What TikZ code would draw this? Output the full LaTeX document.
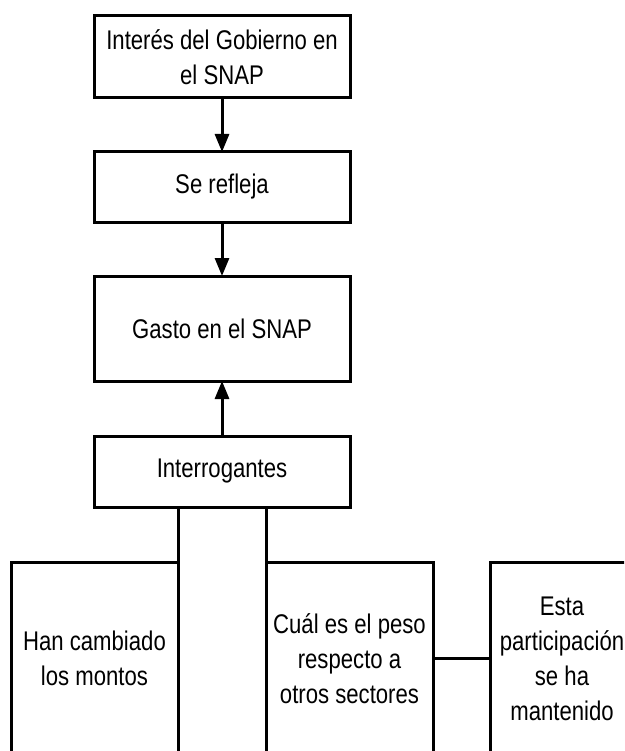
\documentclass[tikz,border=0pt]{standalone}
\usepackage{fontspec}
\setmainfont[FakeStretch=0.82]{Liberation Sans}
\usepackage{tikz}
\usetikzlibrary{positioning, arrows.meta}

\begin{document}
\begin{tikzpicture}
    [x=1pt, y=-1pt,
    caja/.style={rectangle, draw=black, line width=3pt, align=center, minimum width=256pt, inner sep=0pt, outer sep=0pt},
    cajabaja/.style={rectangle, draw=black, line width=3pt, align=center, minimum height=193pt, inner sep=0pt, outer sep=0pt},
    flecha/.style={-{Triangle[width=14pt,length=18pt]}, line width=3pt},
    font=\fontsize{27}{35}\selectfont]

    \useasboundingbox (0,0) rectangle (624,751);
    \clip (0,0) rectangle (624,751);

    %Nodes
    \node[caja, minimum height=82pt](interes) at (222,57) {Interés del Gobierno en\\el SNAP};
    \node[caja, minimum height=70pt](refleja)[below=54pt of interes] {Se refleja};
    \node[caja, minimum height=105pt](gasto)[below=54pt of refleja] {Gasto en el SNAP};
    \node[caja, minimum height=71pt](preguntas)[below=55pt of gasto] {Interrogantes};

    %Questions
    \node[cajabaja, minimum width=167pt](montos) at (94.5,658.5) {Han cambiado\\los montos};
    \node[cajabaja, minimum width=167pt](peso) at (349.5,658.5) {Cuál es el peso\\respecto a\\otros sectores};
    \node[cajabaja, minimum width=144pt](mantenido) at (562,658.5) {Esta\\participación\\se ha\\mantenido};

    %Lines
    \draw[flecha](interes)--(refleja);
    \draw[flecha](refleja)--(gasto);
    \draw[flecha](preguntas)--(gasto);
    \draw[line width=3pt](preguntas.south -| montos.east)--(montos.north east);
    \draw[line width=3pt](preguntas.south -| peso.west)--(peso.north west);
    \draw[line width=3pt](peso)--(mantenido);

\end{tikzpicture}
\end{document}
